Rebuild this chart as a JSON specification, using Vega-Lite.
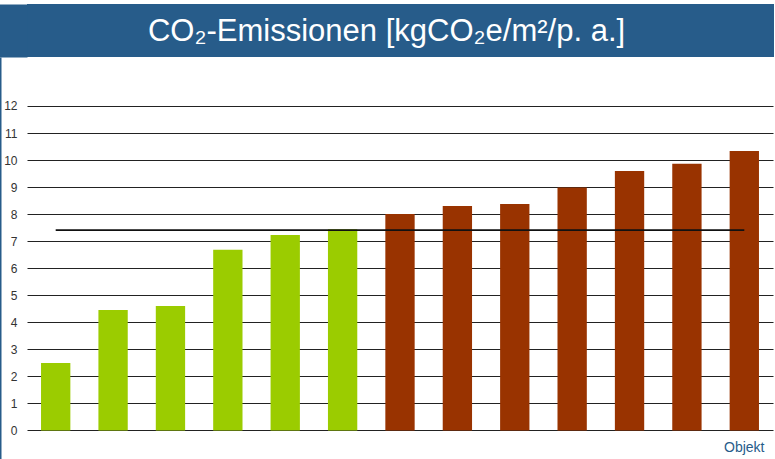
{
  "$schema": "https://vega.github.io/schema/vega-lite/v6.json",
  "padding": {"top": 4, "left": 0, "right": 0, "bottom": 0},
  "background": "white",
  "spacing": 0,
  "config": {"view": {"stroke": null}, "font": "Liberation Sans"},
  "vconcat": [
    {
      "width": 747,
      "height": 53,
      "view": {"fill": "#275c8a", "stroke": null},
      "data": {"values": [{"titel": "CO₂-Emissionen [kgCO₂e/m²/p. a.]"}]},
      "mark": {"type": "text", "color": "white", "fontSize": 31, "font": "Liberation Sans", "align": "center", "baseline": "middle", "dy": 1},
      "encoding": {
        "text": {"field": "titel"},
        "x": {"datum": 0.4813, "type": "quantitative", "scale": {"domain": [0, 1]}, "axis": null},
        "y": {"datum": 0.5, "type": "quantitative", "scale": {"domain": [0, 1]},
          "axis": {"domain": true, "domainColor": "#275c8a", "domainWidth": 28, "offset": 14, "labels": false, "ticks": false, "grid": false, "title": null}}
      }
    },
    {
      "width": 746,
      "height": 402,
      "data": {"values": [
        {"objekt": "1", "co2": 2.50, "gruppe": "unter", "mittel": 7.41},
        {"objekt": "2", "co2": 4.46, "gruppe": "unter", "mittel": 7.41},
        {"objekt": "3", "co2": 4.60, "gruppe": "unter", "mittel": 7.41},
        {"objekt": "4", "co2": 6.68, "gruppe": "unter", "mittel": 7.41},
        {"objekt": "5", "co2": 7.23, "gruppe": "unter", "mittel": 7.41},
        {"objekt": "6", "co2": 7.44, "gruppe": "unter", "mittel": 7.41},
        {"objekt": "7", "co2": 8.01, "gruppe": "ueber", "mittel": 7.41},
        {"objekt": "8", "co2": 8.30, "gruppe": "ueber", "mittel": 7.41},
        {"objekt": "9", "co2": 8.38, "gruppe": "ueber", "mittel": 7.41},
        {"objekt": "10", "co2": 8.99, "gruppe": "ueber", "mittel": 7.41},
        {"objekt": "11", "co2": 9.60, "gruppe": "ueber", "mittel": 7.41},
        {"objekt": "12", "co2": 9.86, "gruppe": "ueber", "mittel": 7.41},
        {"objekt": "13", "co2": 10.34, "gruppe": "ueber", "mittel": 7.41}
      ]},
      "encoding": {
        "x": {"field": "objekt", "type": "ordinal", "sort": null,
          "scale": {"paddingInner": 0.489, "paddingOuter": 0.2445},
          "axis": {"labels": false, "ticks": false, "domain": false, "title": "Objekt",
            "titleColor": "#275c8a", "titleFont": "Liberation Sans", "titleFontSize": 14, "titleFontWeight": "normal",
            "titleAlign": "right", "titleX": 737, "titleY": -12, "titleBaseline": "middle"}}
      },
      "layer": [
        {
          "mark": {"type": "bar"},
          "encoding": {
            "y": {"field": "co2", "type": "quantitative",
              "scale": {"domain": [-1.054, 13.812], "nice": false, "zero": false},
              "axis": {"values": [0, 1, 2, 3, 4, 5, 6, 7, 8, 9, 10, 11, 12], "tickCount": 13, "labelOverlap": false, "title": null, "offset": 27,
                "domainColor": "#275c8a", "domainWidth": 2, "ticks": false, "tickSize": 0, "labelPadding": -17,
                "labelFontSize": 12, "labelColor": "#333333", "labelFont": "Liberation Sans",
                "grid": true, "gridColor": "#222222", "gridWidth": 1}},
            "color": {"field": "gruppe", "type": "nominal",
              "scale": {"domain": ["unter", "ueber"], "range": ["#9bcc00", "#993300"]}, "legend": null}
          }
        },
        {
          "mark": {"type": "line", "color": "#111111", "strokeWidth": 1.6},
          "encoding": {
            "y": {"field": "mittel", "type": "quantitative",
              "axis": {"values": [0, 1, 2, 3, 4, 5, 6, 7, 8, 9, 10, 11, 12], "tickCount": 13, "labelOverlap": false, "title": null, "offset": 27,
                "domainColor": "#275c8a", "domainWidth": 2, "ticks": false, "tickSize": 0, "labelPadding": -17,
                "labelFontSize": 12, "labelColor": "#333333", "labelFont": "Liberation Sans",
                "grid": true, "gridColor": "#222222", "gridWidth": 1}}
          }
        }
      ]
    }
  ]
}
